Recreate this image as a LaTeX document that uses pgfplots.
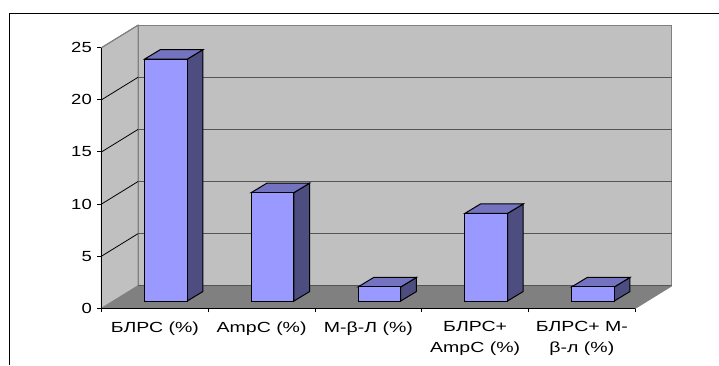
\documentclass[border=0pt]{standalone}
\usepackage{fontspec}
\setmainfont[FakeStretch=1.33]{Liberation Sans}
\newfontfamily\numfont[FakeStretch=1.26]{Liberation Sans}
\usepackage{pgfplots}
\usepackage{pgfplotstable}
\pgfplotsset{compat=1.18}
\newdimen\px \px=0.75pt
\definecolor{wallc}{HTML}{C0C0C0}
\definecolor{wallline}{HTML}{808080}
\definecolor{floorc}{HTML}{808080}
\definecolor{gridc}{HTML}{555555}
\definecolor{barfront}{HTML}{9999FF}
\definecolor{bartop}{HTML}{7373BF}
\definecolor{barside}{HTML}{4D4D80}
\pgfplotstableread{
pos share
0.5 23.2
1.5 10.4
2.5 1.35
3.5 8.4
4.5 1.35
}\resistance
\begin{document}
\begin{tikzpicture}
% page extent and the open outer frame
\useasboundingbox (-101.5\px,-56.7\px) rectangle (617.5\px,308.3\px);
\draw[black,line width=1\px] (-92\px,-56.7\px) -- (-92\px,294.8\px) -- (617.5\px,294.8\px);
% walls, floor and axes of the 3D box
\begin{axis}[
  at={(0,0)},anchor=south west,scale only axis,
  width=533.8\px,height=260.6\px,
  xmin=0,xmax=5,ymin=0,ymax=25,clip=false,
  axis x line*=bottom,axis y line*=left,
  axis line style={black,line width=1\px,-},
  xtick={0.5,1.5,2.5,3.5,4.5},
  xticklabels={{БЛРС (\%)},{AmpC (\%)},{М-β-Л (\%)},{БЛРС+\\AmpC (\%)},{БЛРС+ М-\\β-л (\%)}},
  minor xtick={0,1,2,3,4,5},
  ytick={0,5,10,15,20,25},
  major x tick style={draw=none},
  major tick length=4\px,minor tick length=4\px,
  tick align=outside,
  tick style={black,line width=1\px},
  /pgf/number format/assume math mode=true,
  xticklabel style={font=\fontsize{11}{15.5}\selectfont,align=center,text depth=0pt,yshift=-4.5\px,text=black},
  yticklabel style={font=\fontsize{11}{12}\selectfont\numfont,xshift=-1\px,text=black},
]
\addplot[fill=wallc,draw=wallline,line width=1\px] coordinates {(0,0) (0,25) (0.342,27.16) (0.342,2.16)} -- cycle;
\addplot[fill=wallc,draw=wallline,line width=1\px] coordinates {(0.342,2.16) (0.342,27.16) (5.342,27.16) (5.342,2.16)} -- cycle;
\addplot[fill=floorc,draw=none] coordinates {(0,0) (5,0) (5.342,2.16) (0.342,2.16)} -- cycle;
\addplot[gridc,line width=1.3\px] coordinates {(0.342,2.16) (5.342,2.16)};
\addplot[gridc,line width=1.3\px] coordinates {(0.342,7.16) (5.342,7.16)};
\addplot[gridc,line width=1.3\px] coordinates {(0.342,12.16) (5.342,12.16)};
\addplot[gridc,line width=1.3\px] coordinates {(0.342,17.16) (5.342,17.16)};
\addplot[gridc,line width=1.3\px] coordinates {(0.342,22.16) (5.342,22.16)};
\addplot[black,line width=0.8\px] coordinates {(0,5) (0.342,7.16)};
\addplot[black,line width=0.8\px] coordinates {(0,10) (0.342,12.16)};
\addplot[black,line width=0.8\px] coordinates {(0,15) (0.342,17.16)};
\addplot[black,line width=0.8\px] coordinates {(0,20) (0.342,22.16)};
\addplot[wallline,line width=1\px] coordinates {(0,25) (0.342,27.16)};
\addplot[wallline,line width=1\px] coordinates {(5,0) (5.342,2.16)};
\addplot[black,line width=1\px] coordinates {(0,0) (5,0)};
\addplot[black,line width=1\px] coordinates {(0,0) (0,25)};
\end{axis}
% the bars stand a little behind the front edge of the floor
\begin{axis}[
  at={(11\px,7.3\px)},anchor=south west,scale only axis,
  width=533.8\px,height=260.6\px,
  xmin=0,xmax=5,ymin=0,ymax=25,clip=false,hide axis,
]
% side faces
\addplot[fill=barside,draw=black,line width=1\px] coordinates {(0.7,0) (0.847,0.91) (0.847,24.11) (0.7,23.2)} -- cycle;
\addplot[fill=barside,draw=black,line width=1\px] coordinates {(1.7,0) (1.847,0.91) (1.847,11.31) (1.7,10.4)} -- cycle;
\addplot[fill=barside,draw=black,line width=1\px] coordinates {(2.7,0) (2.847,0.91) (2.847,2.26) (2.7,1.35)} -- cycle;
\addplot[fill=barside,draw=black,line width=1\px] coordinates {(3.7,0) (3.847,0.91) (3.847,9.31) (3.7,8.4)} -- cycle;
\addplot[fill=barside,draw=black,line width=1\px] coordinates {(4.7,0) (4.847,0.91) (4.847,2.26) (4.7,1.35)} -- cycle;
% top faces
\addplot[fill=bartop,draw=black,line width=1\px] coordinates {(0.3,23.2) (0.7,23.2) (0.847,24.11) (0.447,24.11)} -- cycle;
\addplot[fill=bartop,draw=black,line width=1\px] coordinates {(1.3,10.4) (1.7,10.4) (1.847,11.31) (1.447,11.31)} -- cycle;
\addplot[fill=bartop,draw=black,line width=1\px] coordinates {(2.3,1.35) (2.7,1.35) (2.847,2.26) (2.447,2.26)} -- cycle;
\addplot[fill=bartop,draw=black,line width=1\px] coordinates {(3.3,8.4) (3.7,8.4) (3.847,9.31) (3.447,9.31)} -- cycle;
\addplot[fill=bartop,draw=black,line width=1\px] coordinates {(4.3,1.35) (4.7,1.35) (4.847,2.26) (4.447,2.26)} -- cycle;
% front faces
\addplot[ybar,bar width=42.7\px,bar shift=0pt,fill=barfront,draw=black,line width=1\px] table[x=pos,y=share] {\resistance};
\end{axis}
\end{tikzpicture}
\end{document}
